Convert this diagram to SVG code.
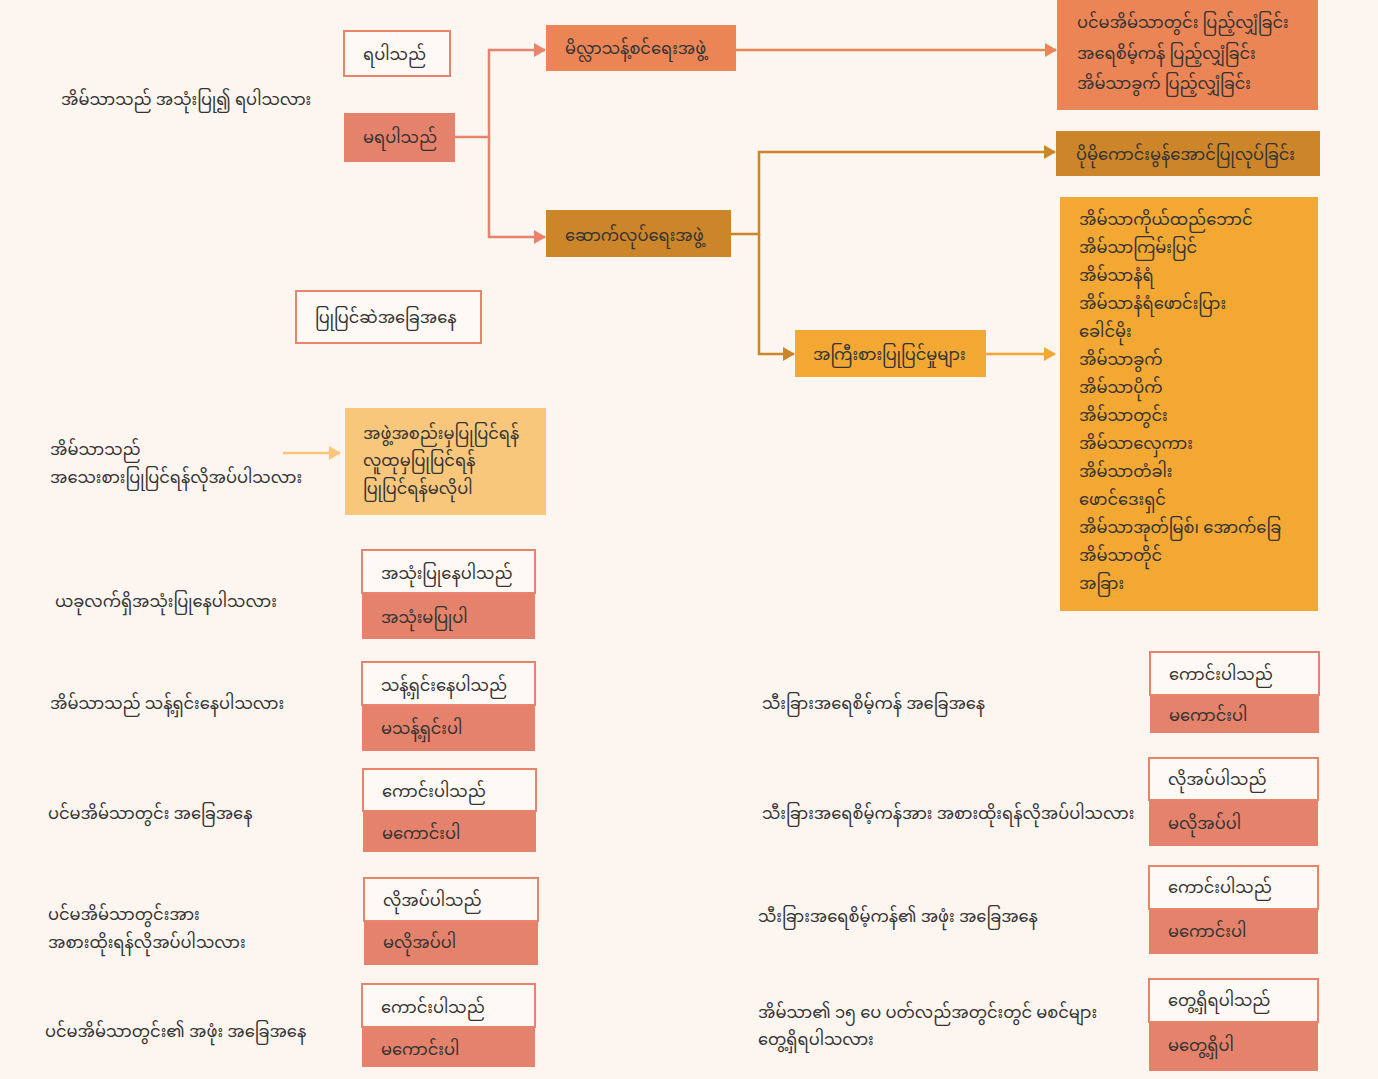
<svg xmlns="http://www.w3.org/2000/svg" width="1378" height="1079" viewBox="0 0 1378 1079">
<defs>
<style>
text{font-family:"Noto Sans Myanmar","Padauk","Myanmar Text","Noto Sans",sans-serif;font-size:16.3px;fill:#333333;dominant-baseline:central}
.ob{fill:#FFF9F5;stroke:#E8836C;stroke-width:2}
.fb{fill:#E5826C}
.c1{fill:none;stroke:#E8836C;stroke-width:2.5}
.c2{fill:none;stroke:#EC8556;stroke-width:2.5}
.c3{fill:none;stroke:#CC8529;stroke-width:2.5}
.c4{fill:none;stroke:#F2A833;stroke-width:2.5}
.c5{fill:none;stroke:#F9C57A;stroke-width:2.5}
</style>
<marker id="m1" markerWidth="12" markerHeight="14" refX="11" refY="7" orient="auto" markerUnits="userSpaceOnUse"><path d="M0,0 L12,7 L0,14 Z" fill="#E8836C"/></marker>
<marker id="m2" markerWidth="12" markerHeight="14" refX="11" refY="7" orient="auto" markerUnits="userSpaceOnUse"><path d="M0,0 L12,7 L0,14 Z" fill="#EC8556"/></marker>
<marker id="m3" markerWidth="12" markerHeight="14" refX="11" refY="7" orient="auto" markerUnits="userSpaceOnUse"><path d="M0,0 L12,7 L0,14 Z" fill="#CC8529"/></marker>
<marker id="m4" markerWidth="12" markerHeight="14" refX="11" refY="7" orient="auto" markerUnits="userSpaceOnUse"><path d="M0,0 L12,7 L0,14 Z" fill="#F2A833"/></marker>
<marker id="m5" markerWidth="12" markerHeight="14" refX="11" refY="7" orient="auto" markerUnits="userSpaceOnUse"><path d="M0,0 L12,7 L0,14 Z" fill="#F9C57A"/></marker>
</defs>
<rect x="0" y="0" width="1378" height="1079" fill="#FDF5F0"/>

<g id="connectors">
<path class="c1" d="M455,137 H489 V50 H545" marker-end="url(#m1)"/>
<path class="c1" d="M489,137 V237 H545" marker-end="url(#m1)"/>
<path class="c2" d="M736,50 H1056" marker-end="url(#m2)"/>
<path class="c3" d="M731,234 H759 V152 H1055" marker-end="url(#m3)"/>
<path class="c3" d="M759,234 V354 H794" marker-end="url(#m3)"/>
<path class="c4" d="M986,354 H1055" marker-end="url(#m4)"/>
<path class="c5" d="M283,453 H340" marker-end="url(#m5)"/>
</g>

<g id="q-usable"><text x="61" y="101">အိမ်သာသည် အသုံးပြု၍ ရပါသလား</text></g>
<g id="usable-yes"><rect class="ob" x="344" y="31" width="106" height="45"/><text x="363" y="56">ရပါသည်</text></g>
<g id="usable-no"><rect class="fb" x="344" y="113" width="111" height="49"/><text x="363" y="139">မရပါသည်</text></g>

<g id="sanitation"><rect x="546" y="25" width="190" height="46" fill="#EC8556"/><text x="565" y="50">မိလ္လာသန့်စင်ရေးအဖွဲ့</text></g>
<g id="sanitation-items"><rect x="1057" y="0" width="261" height="110" fill="#EC8556"/>
<text x="1077" y="24">ပင်မအိမ်သာတွင်း ပြည့်လျှံခြင်း</text>
<text x="1077" y="55">အရေစိမ့်ကန် ပြည့်လျှံခြင်း</text>
<text x="1077" y="85">အိမ်သာခွက် ပြည့်လျှံခြင်း</text></g>

<g id="construction"><rect x="546" y="210" width="185" height="47" fill="#CC8529"/><text x="565" y="237">ဆောက်လုပ်ရေးအဖွဲ့</text></g>
<g id="improve"><rect x="1056" y="131" width="264" height="45" fill="#CC8529"/><text x="1076" y="156">ပိုမိုကောင်းမွန်အောင်ပြုလုပ်ခြင်း</text></g>
<g id="major-repairs"><rect x="795" y="330" width="191" height="47" fill="#F2A833"/><text x="813" y="356">အကြီးစားပြုပြင်မှုများ</text></g>
<g id="parts"><rect x="1060" y="197" width="258" height="414" fill="#F2A833"/>
<text x="1079" y="221">အိမ်သာကိုယ်ထည်ဘောင်</text>
<text x="1079" y="249">အိမ်သာကြမ်းပြင်</text>
<text x="1079" y="277">အိမ်သာနံရံ</text>
<text x="1079" y="305">အိမ်သာနံရံဖောင်းပြား</text>
<text x="1079" y="333">ခေါင်မိုး</text>
<text x="1079" y="361">အိမ်သာခွက်</text>
<text x="1079" y="389">အိမ်သာပိုက်</text>
<text x="1079" y="417">အိမ်သာတွင်း</text>
<text x="1079" y="445">အိမ်သာလှေကား</text>
<text x="1079" y="473">အိမ်သာတံခါး</text>
<text x="1079" y="501">ဖောင်ဒေးရှင်</text>
<text x="1079" y="529">အိမ်သာအုတ်မြစ်၊ အောက်ခြေ</text>
<text x="1079" y="557">အိမ်သာတိုင်</text>
<text x="1079" y="585">အခြား</text></g>

<g id="in-repair"><rect class="ob" x="296" y="291" width="185" height="52"/><text x="315" y="319">ပြုပြင်ဆဲအခြေအနေ</text></g>

<g id="q-minor"><text x="50" y="451">အိမ်သာသည်</text><text x="50" y="479">အသေးစားပြုပြင်ရန်လိုအပ်ပါသလား</text></g>
<g id="minor-options"><rect x="345" y="408" width="201" height="107" fill="#F9C77C"/>
<text x="363" y="435">အဖွဲ့အစည်းမှပြုပြင်ရန်</text>
<text x="363" y="462">လူထုမှပြုပြင်ရန်</text>
<text x="363" y="490">ပြုပြင်ရန်မလိုပါ</text></g>

<g id="q-inuse"><text x="55" y="603">ယခုလက်ရှိအသုံးပြုနေပါသလား</text>
<rect class="fb" x="362" y="593" width="173" height="46"/><rect class="ob" x="362" y="550" width="173" height="43"/>
<text x="381" y="575">အသုံးပြုနေပါသည်</text><text x="381" y="619">အသုံးမပြုပါ</text></g>

<g id="q-clean"><text x="50" y="705">အိမ်သာသည် သန့်ရှင်းနေပါသလား</text>
<rect class="fb" x="362" y="705" width="173" height="46"/><rect class="ob" x="362" y="662" width="173" height="43"/>
<text x="381" y="687">သန့်ရှင်းနေပါသည်</text><text x="381" y="730">မသန့်ရှင်းပါ</text></g>

<g id="q-pit"><text x="48" y="815">ပင်မအိမ်သာတွင်း အခြေအနေ</text>
<rect class="fb" x="363" y="811" width="173" height="41"/><rect class="ob" x="363" y="769" width="173" height="42"/>
<text x="382" y="793">ကောင်းပါသည်</text><text x="382" y="835">မကောင်းပါ</text></g>

<g id="q-pit-replace"><text x="48" y="916">ပင်မအိမ်သာတွင်းအား</text><text x="48" y="944">အစားထိုးရန်လိုအပ်ပါသလား</text>
<rect class="fb" x="364" y="921" width="174" height="44"/><rect class="ob" x="364" y="878" width="174" height="43"/>
<text x="383" y="902">လိုအပ်ပါသည်</text><text x="383" y="944">မလိုအပ်ပါ</text></g>

<g id="q-pit-cover"><text x="45" y="1033">ပင်မအိမ်သာတွင်း၏ အဖုံး အခြေအနေ</text>
<rect class="fb" x="362" y="1027" width="173" height="40"/><rect class="ob" x="362" y="984" width="173" height="43"/>
<text x="381" y="1009">ကောင်းပါသည်</text><text x="381" y="1051">မကောင်းပါ</text></g>

<g id="q-tank"><text x="762" y="705">သီးခြားအရေစိမ့်ကန် အခြေအနေ</text>
<rect class="fb" x="1150" y="695" width="169" height="38"/><rect class="ob" x="1150" y="652" width="169" height="43"/>
<text x="1169" y="676">ကောင်းပါသည်</text><text x="1169" y="717">မကောင်းပါ</text></g>

<g id="q-tank-replace"><text x="762" y="815">သီးခြားအရေစိမ့်ကန်အား အစားထိုးရန်လိုအပ်ပါသလား</text>
<rect class="fb" x="1149" y="800" width="169" height="46"/><rect class="ob" x="1149" y="758" width="169" height="42"/>
<text x="1168" y="781">လိုအပ်ပါသည်</text><text x="1168" y="825">မလိုအပ်ပါ</text></g>

<g id="q-tank-cover"><text x="758" y="918">သီးခြားအရေစိမ့်ကန်၏ အဖုံး အခြေအနေ</text>
<rect class="fb" x="1149" y="909" width="169" height="45"/><rect class="ob" x="1149" y="866" width="169" height="43"/>
<text x="1168" y="889">ကောင်းပါသည်</text><text x="1168" y="933">မကောင်းပါ</text></g>

<g id="q-feces"><text x="758" y="1014">အိမ်သာ၏ ၁၅ ပေ ပတ်လည်အတွင်းတွင် မစင်များ</text><text x="758" y="1041">တွေ့ရှိရပါသလား</text>
<rect class="fb" x="1149" y="1022" width="169" height="49"/><rect class="ob" x="1149" y="979" width="169" height="43"/>
<text x="1168" y="1002">တွေ့ရှိရပါသည်</text><text x="1168" y="1047">မတွေ့ရှိပါ</text></g>
</svg>
